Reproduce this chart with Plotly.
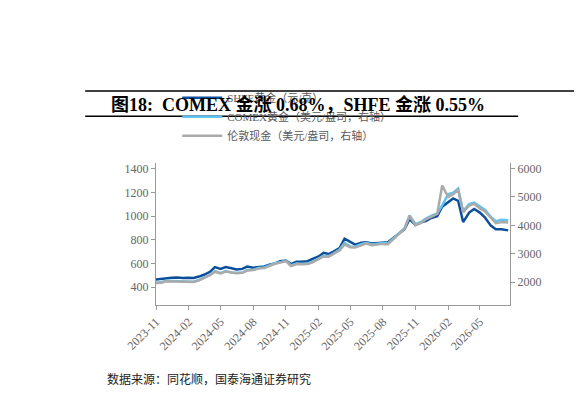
import plotly.graph_objects as go

dates = ["2023-11-01", "2023-11-15", "2023-12-01", "2023-12-15", "2024-01-01", "2024-01-15",
         "2024-02-01", "2024-02-15", "2024-03-01", "2024-03-15", "2024-04-01", "2024-04-15",
         "2024-05-01", "2024-05-15", "2024-06-01", "2024-06-15", "2024-07-01", "2024-07-15",
         "2024-08-01", "2024-08-15", "2024-09-01", "2024-09-15", "2024-10-01", "2024-10-15",
         "2024-11-01", "2024-11-15", "2024-12-01", "2024-12-15", "2025-01-01", "2025-01-15",
         "2025-02-01", "2025-02-15", "2025-03-01", "2025-03-15", "2025-04-01", "2025-04-15",
         "2025-05-01", "2025-05-15", "2025-06-01", "2025-06-15", "2025-07-01", "2025-07-15",
         "2025-08-01", "2025-08-15", "2025-09-01", "2025-09-15", "2025-10-01", "2025-10-15",
         "2025-11-01", "2025-11-15", "2025-12-01", "2025-12-15", "2026-01-01", "2026-01-15",
         "2026-02-01", "2026-02-15", "2026-03-01", "2026-03-15", "2026-04-01", "2026-04-15",
         "2026-05-01", "2026-05-15", "2026-06-01", "2026-06-15", "2026-07-01", "2026-07-20"]

shfe = [465, 470, 478, 480, 482, 478, 480, 478, 490, 505, 530, 570,
        555, 570, 560, 550, 555, 575, 565, 568, 575, 590, 600, 620,
        625, 595, 615, 615, 620, 640, 660, 690, 680, 700, 730, 810,
        780, 760, 775, 780, 770, 775, 775, 780, 820, 850, 890, 975,
        925, 945, 960, 985, 1000, 1080, 1120, 1150, 1130, 950, 1030, 1060,
        1030, 990, 920, 890, 890, 880]

comex = [1990, 2000, 2050, 2045, 2050, 2030, 2040, 2020, 2080, 2170, 2260, 2390,
         2320, 2390, 2340, 2330, 2340, 2430, 2440, 2500, 2520, 2590, 2670, 2700,
         2760, 2590, 2660, 2650, 2660, 2720, 2850, 2930, 2920, 3010, 3150, 3380,
         3260, 3250, 3340, 3390, 3330, 3360, 3380, 3370, 3560, 3700, 3900, 4350,
         4040, 4110, 4250, 4330, 4420, 4700, 5100, 5150, 5300, 4500, 4750, 4800,
         4650, 4550, 4300, 4150, 4200, 4180]

london = [1975, 1985, 2035, 2030, 2040, 2020, 2030, 2010, 2070, 2160, 2250, 2370,
          2310, 2375, 2330, 2320, 2330, 2410, 2430, 2480, 2500, 2570, 2650, 2690,
          2740, 2570, 2640, 2630, 2640, 2700, 2830, 2910, 2900, 2990, 3120, 3330,
          3230, 3220, 3310, 3360, 3300, 3330, 3350, 3340, 3540, 3680, 3880, 4330,
          4010, 4080, 4220, 4300, 4400, 5400, 5000, 5100, 5250, 4460, 4700, 4760,
          4600, 4500, 4250, 4080, 4120, 4100]

tick_vals = ["2023-11-01", "2024-02-01", "2024-05-01", "2024-08-01", "2024-11-01", "2025-02-01",
             "2025-05-01", "2025-08-01", "2025-11-01", "2026-02-01", "2026-05-01"]
tick_text = ["2023-11", "2024-02", "2024-05", "2024-08", "2024-11", "2025-02",
             "2025-05", "2025-08", "2025-11", "2026-02", "2026-05"]

fig = go.Figure()
fig.add_trace(go.Scatter(x=dates, y=shfe, mode="lines", name="SHFE黄金（元/克）",
                         line=dict(color="#0b4f9a", width=2.5)))
fig.add_trace(go.Scatter(x=dates, y=comex, mode="lines", name="COMEX黄金（美元/盎司，右轴）",
                         line=dict(color="#5ec4f2", width=2.5), yaxis="y2"))
fig.add_trace(go.Scatter(x=dates, y=london, mode="lines", name="伦敦现金（美元/盎司，右轴）",
                         line=dict(color="#aaaaaa", width=2.5), yaxis="y2"))

axis_font = dict(family="Liberation Serif, Noto Sans CJK SC", size=12, color="#666666")
fig.update_layout(
    width=582, height=418,
    margin=dict(l=148, r=80, t=101, b=121),
    plot_bgcolor="white", paper_bgcolor="white",
    font=dict(family="Liberation Serif, Noto Sans CJK SC", color="#595959"),
    showlegend=True,
    legend=dict(x=0.06, y=0.82, xref="paper", yref="container", yanchor="top",
                font=dict(size=11, color="#595959"), bgcolor="rgba(0,0,0,0)",
                tracegroupgap=0, itemwidth=40),
    xaxis=dict(range=["2023-11-01", "2026-07-25"], tickvals=tick_vals, ticktext=tick_text,
               tickangle=-45, showgrid=False, showline=True, linecolor="#999999",
               ticks="outside", tickcolor="#999999", ticklen=4, tickfont=axis_font),
    yaxis=dict(range=[250, 1450], dtick=200, showgrid=False, showline=True, linecolor="#999999",
               ticks="outside", tickcolor="#999999", ticklen=4, tickfont=axis_font, zeroline=False),
    yaxis2=dict(range=[1200, 6200], dtick=1000, overlaying="y", side="right", showgrid=False,
                showline=True, linecolor="#999999", ticks="outside", tickcolor="#999999",
                ticklen=4, tickfont=axis_font, zeroline=False),
)

fig.add_annotation(text="<b>图18:  COMEX 金涨 0.68%，SHFE 金涨 0.55%</b>", x=0.4, y=1.413,
                   xref="paper", yref="paper", yanchor="middle", showarrow=False,
                   font=dict(family="Liberation Serif, Noto Sans CJK SC", size=18, color="black"))
fig.add_shape(type="line", xref="paper", yref="paper", x0=-0.2, x1=1.226,
              y0=1.505, y1=1.505, line=dict(color="black", width=1.5))
fig.add_shape(type="line", xref="paper", yref="paper", x0=-0.2, x1=1.023,
              y0=1.327, y1=1.327, line=dict(color="black", width=1.5))
fig.add_annotation(text="数据来源：同花顺，国泰海通证券研究", x=-0.144, y=-0.515, xref="paper", yref="paper",
                   showarrow=False, xanchor="left", yanchor="middle",
                   font=dict(family="Noto Sans CJK SC", size=12, color="#222222"))

fig.write_html("out.html")
